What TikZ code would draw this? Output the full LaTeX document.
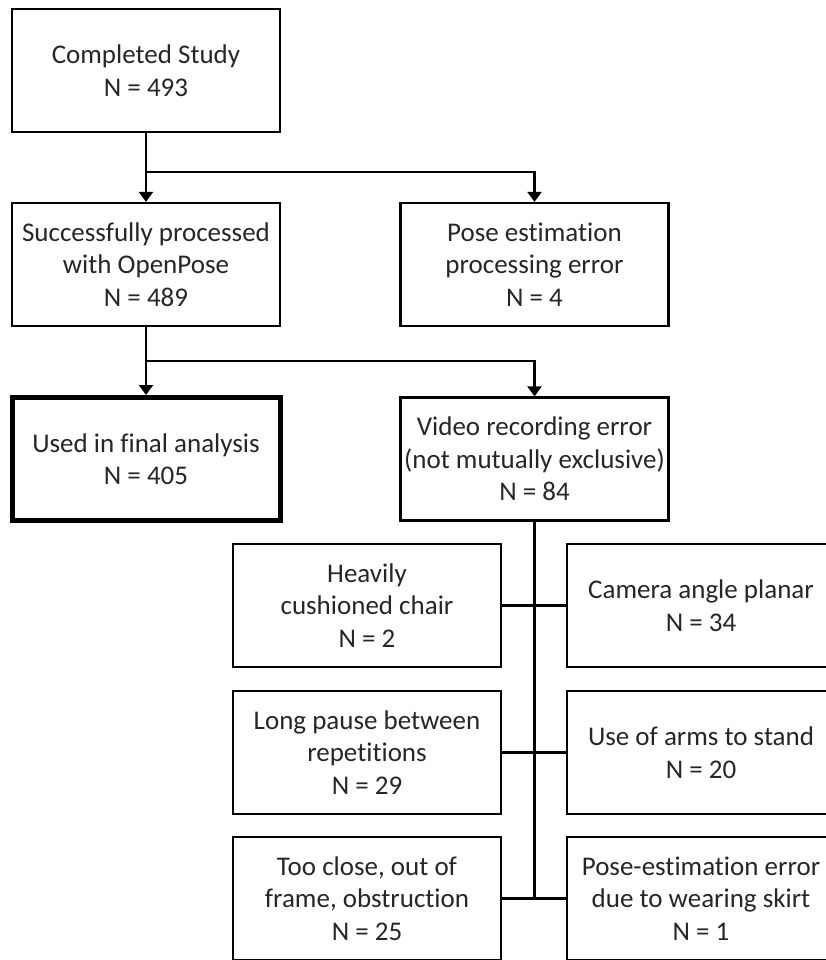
\documentclass[tikz,border=0pt]{standalone}
\usepackage{fontspec}
\setmainfont{Carlito}[Ligatures=NoCommon]
\usetikzlibrary{arrows.meta}
\begin{document}
\begin{tikzpicture}[x=1pt,y=-1pt,
  box/.style={draw=black, line width=2.2pt, rectangle, minimum width=268pt, minimum height=123pt, inner sep=0pt, align=center, font=\fontsize{27}{32.5}\selectfont, text=black!85},
  finalbox/.style={box, line width=5pt},
  conn/.style={draw=black, line width=2.2pt},
  arr/.style={conn, -{Triangle[length=10pt,width=14pt]}}]
\useasboundingbox (0,0) rectangle (825,960);
\node[box] (A) at (146,70.5) {Completed Study\\N = 493};
\node[box] (B) at (146,264.5) {Successfully processed\\with OpenPose\\N = 489};
\node[box] (C) at (534.5,264.5) {Pose estimation\\processing error\\N = 4};
\node[finalbox] (D) at (146,459) {Used in final analysis\\N = 405};
\node[box] (E) at (534.5,459) {Video recording error\\(not mutually exclusive)\\N = 84};
\node[box] (F1) at (367,605.5) {Heavily\\cushioned chair\\N = 2};
\node[box] (G1) at (701,605.5) {Camera angle planar\\N = 34};
\node[box] (F2) at (367,752.5) {Long pause between\\repetitions\\N = 29};
\node[box] (G2) at (701,752.5) {Use of arms to stand\\N = 20};
\node[box] (F3) at (367,898.5) {Too close, out of\\frame, obstruction\\N = 25};
\node[box] (G3) at (701,898.5) {Pose-estimation error\\due to wearing skirt\\N = 1};
\coordinate (j1) at (146,172);
\coordinate (j2) at (146,361);
\coordinate (j3) at (534.5,898.5);
\draw[arr] (A.south) -- (B.north);
\draw[arr] (j1) -| (C.north);
\draw[arr] (B.south) -- (D.north);
\draw[arr] (j2) -| (E.north);
\draw[conn] (E.south) -- (j3);
\draw[conn] (F1.east) -- (G1.west);
\draw[conn] (F2.east) -- (G2.west);
\draw[conn] (F3.east) -- (G3.west);
\end{tikzpicture}
\end{document}
